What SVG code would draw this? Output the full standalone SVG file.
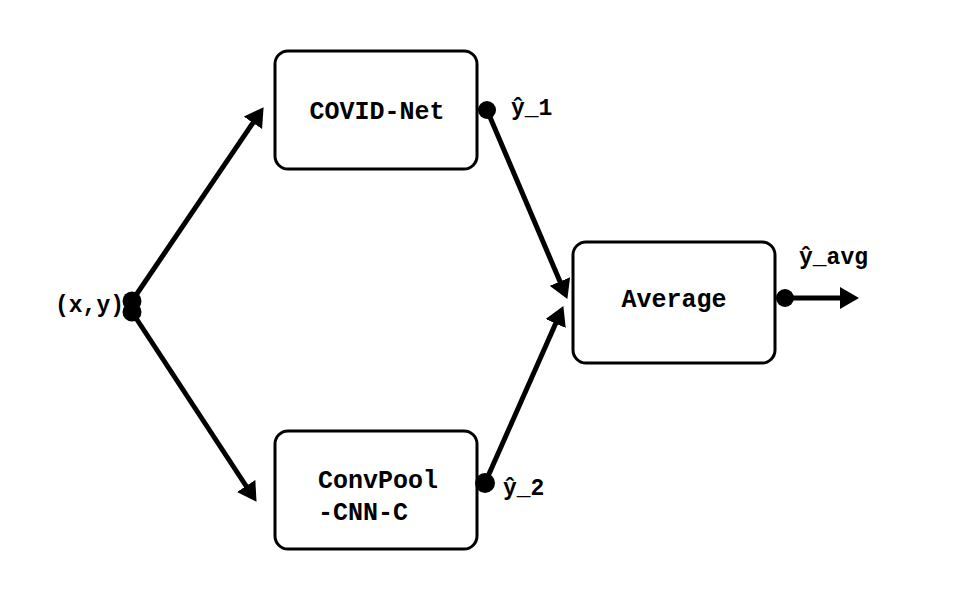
<svg xmlns="http://www.w3.org/2000/svg" width="955" height="595" viewBox="0 0 955 595">
<style>
.box{fill:#fff;stroke:#000;stroke-width:3}
.t{font-family:"Liberation Mono","DejaVu Sans Mono",monospace;font-weight:bold;font-size:25px;fill:#000}
.lb{font-family:"Liberation Mono","DejaVu Sans Mono",monospace;font-weight:bold;font-size:23px;fill:#000}
.ln{stroke:#000;stroke-width:5;fill:none;marker-end:url(#ah)}
.dot{fill:#000}
</style>
<defs>
<marker id="ah" viewBox="0 0 19 22" refX="6" refY="11" markerWidth="19" markerHeight="22" markerUnits="userSpaceOnUse" orient="auto">
<path d="M0,0 L19,11 L0,22 z" fill="#000"/>
</marker>
</defs>
<rect width="955" height="595" fill="#fff"/>
<g id="connectors">
<line class="ln" x1="132" y1="301" x2="256.3" y2="117.9"/>
<line class="ln" x1="132" y1="312" x2="249.4" y2="491"/>
<line class="ln" x1="487" y1="110" x2="562.3" y2="287"/>
<line class="ln" x1="485" y1="483" x2="558.1" y2="318"/>
<line class="ln" x1="785" y1="298" x2="846" y2="298"/>
</g>
<g id="covidnet">
<rect class="box" x="275" y="51" width="202" height="118" rx="13"/>
<text class="t" x="377" y="119" text-anchor="middle">COVID-Net</text>
</g>
<g id="convpool">
<rect class="box" x="275" y="431" width="202" height="118" rx="13"/>
<text class="t" x="318" y="488">ConvPool</text>
<text class="t" x="318" y="520">-CNN-C</text>
</g>
<g id="average">
<rect class="box" x="573" y="242" width="202" height="121" rx="13"/>
<text class="t" x="674" y="307" text-anchor="middle">Average</text>
</g>
<g id="input">
<circle class="dot" cx="132" cy="301" r="9.5"/>
<circle class="dot" cx="132" cy="312" r="9.5"/>
<text class="lb" x="55" y="312">(x,y)</text>
</g>
<g id="out1">
<circle class="dot" cx="487" cy="110" r="9"/>
<text class="lb" x="511" y="115">ŷ_1</text>
</g>
<g id="out2">
<circle class="dot" cx="485" cy="483" r="10"/>
<text class="lb" x="503" y="495">ŷ_2</text>
</g>
<g id="outavg">
<circle class="dot" cx="785" cy="298" r="9"/>
<text class="lb" x="799" y="264">ŷ_avg</text>
</g>
</svg>
